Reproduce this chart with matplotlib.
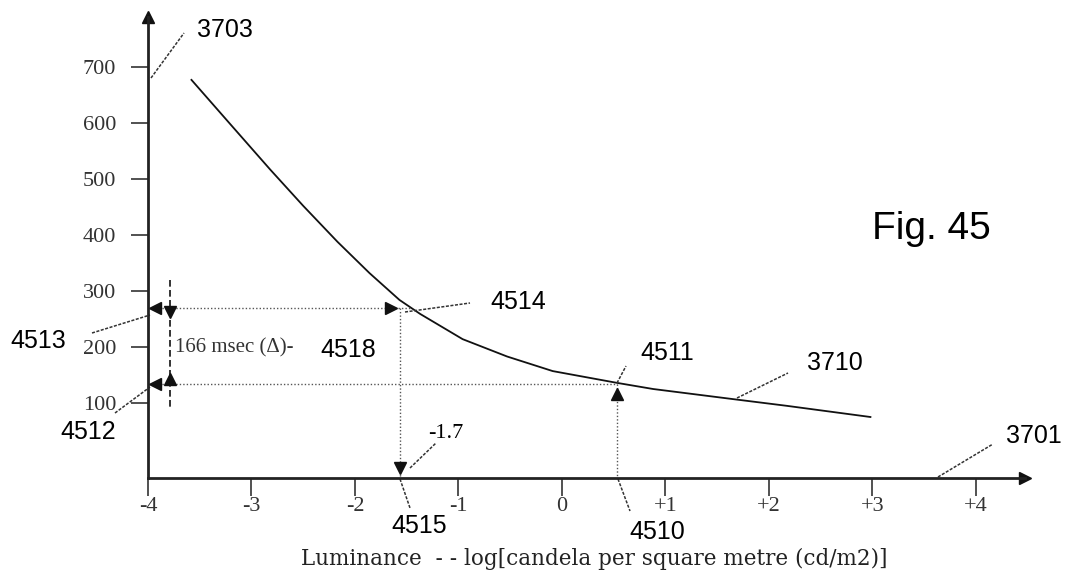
import matplotlib
matplotlib.use("Agg")
import matplotlib.pyplot as plt
from matplotlib.transforms import IdentityTransform

# ---------------- data ----------------
curve_x = [-3.58, -3.21, -2.82, -2.50, -2.17, -1.86, -1.57, -1.37, -0.96, -0.53, -0.09, 0.53, 0.88, 1.65, 2.17, 2.98]
curve_y = [677, 599, 517, 452, 388, 332, 284, 259, 214, 183, 157, 136, 125, 107, 95, 75]

x_ticks = [-4, -3, -2, -1, 0, 1, 2, 3, 4]
x_tick_labels = ["-4", "-3", "-2", "-1", "0", "+1", "+2", "+3", "+4"]
y_ticks = [100, 200, 300, 400, 500, 600, 700]
y_tick_labels = ["100", "200", "300", "400", "500", "600", "700"]

x_ref = 0.53        # reference luminance (4510)
t_ref = 134         # response at reference (4511 / 4512)
x_low = -1.57       # lower luminance (4515)
t_low = 270         # response at lower luminance (4514 / 4513)
x_dim = -3.79       # position of dimension line (4518)

x_axis_level = -34  # height at which the x axis is drawn
y_axis_top = 790
x_axis_end = 4.47

W, H = 1065, 577
fig = plt.figure(figsize=(W / 100, H / 100), dpi=100)
ax = fig.add_axes([0, 0, 1, 1])
ax.set_xlim((0 - 562) / 103.5, (W - 562) / 103.5)
ax.set_ylim((459 - H) / 0.56, 459 / 0.56)
ax.patch.set_alpha(0)

serif = "Liberation Serif"
sans = "Liberation Sans"
ink = "#111111"
dot = "#555555"

# ---------------- axes ----------------
for s in ["top", "right"]:
    ax.spines[s].set_visible(False)
ax.spines["left"].set_position(("data", -4))
ax.spines["bottom"].set_position(("data", x_axis_level))
ax.spines["left"].set_bounds(x_axis_level, y_axis_top)
ax.spines["bottom"].set_bounds(-4, x_axis_end)
for s in ["left", "bottom"]:
    ax.spines[s].set_linewidth(2.0)
    ax.spines[s].set_color("#222222")

ax.set_xticks(x_ticks)
ax.set_xticklabels(x_tick_labels, fontfamily=serif, fontsize=16, color="#333333")
ax.set_yticks(y_ticks)
ax.set_yticklabels(y_tick_labels, fontfamily=serif, fontsize=16, color="#333333")
ax.tick_params(axis="x", direction="out", length=13, width=1.2, pad=1, colors="#333333")
ax.tick_params(axis="y", direction="out", length=12, width=1.2, pad=11, colors="#333333")

# axis arrowheads
ax.plot([-4], [y_axis_top], marker="^", ms=8, color=ink, clip_on=False)
ax.plot([x_axis_end], [x_axis_level], marker=">", ms=9, color=ink, clip_on=False)

fig.text(594 / W, 1 - 559 / H,
         "Luminance  - - log[candela per square metre (cd/m2)]",
         fontfamily="DejaVu Serif", fontsize=15.5, color="#222222", ha="center", va="center")

# ---------------- curve 3710 ----------------
ax.plot(curve_x, curve_y, color=ink, lw=1.3)

# ---------------- construction lines ----------------
dotted = dict(color=dot, lw=1.0, linestyle=(0, (1, 1.5)))
ax.plot([-4, x_low + 0.1], [t_low, t_low], **dotted)
ax.plot([-4, x_ref], [t_ref, t_ref], **dotted)
ax.plot([x_low, x_low], [t_low, x_axis_level], **dotted)
ax.plot([x_ref, x_ref], [t_ref, x_axis_level], **dotted)

# arrowheads on the construction lines
ax.plot([-3.93], [t_low], marker="<", ms=8, color=ink)
ax.plot([x_low - 0.08], [t_low], marker=">", ms=8, color=ink)
ax.plot([x_low], [x_axis_level + 18], marker="v", ms=8, color=ink)
ax.plot([-3.93], [t_ref], marker="<", ms=8, color=ink)
ax.plot([x_ref], [t_ref - 18], marker="^", ms=8, color=ink)

# dimension line 4518
ax.plot([x_dim, x_dim], [t_low + 50, t_ref - 45], color=ink, lw=1.2, linestyle=(0, (4, 2)))
ax.plot([x_dim], [t_low - 8], marker="v", ms=8, color=ink)
ax.plot([x_dim], [t_ref + 8], marker="^", ms=8, color=ink)

# ---------------- reference numerals ----------------
def P(x, y):
    return (x, H - y)

def leader(p0, p1, ls=(0, (2, 1))):
    a, b = P(*p0), P(*p1)
    ax.add_line(plt.Line2D([a[0], b[0]], [a[1], b[1]], transform=IdentityTransform(),
                           color="#333333", lw=1.1, linestyle=ls))

def label(x, y, s, size=18, fam=sans, ha="left", color="black"):
    fig.text(x / W, 1 - y / H, s, fontfamily=fam, fontsize=size, color=color,
             ha=ha, va="center")

label(175, 348, "166 msec (Δ)-", size=15, fam=serif, color="#333333")
leader((151, 78), (184, 33))
label(197, 30, "3703")
leader((92, 333), (150, 315))
label(10, 341, "4513")
leader((115, 413), (150, 387))
label(60, 432, "4512")
leader((405, 312), (470, 303))
label(490, 302, "4514")
leader((617, 383), (626, 366))
label(640, 353, "4511")
leader((737, 398), (788, 373))
label(807, 363, "3710")
leader((938, 477), (993, 444))
label(1006, 436, "3701")
leader((410, 468), (436, 443))
label(428, 433, "-1.7", size=16, fam=serif)
leader((400, 479), (410, 508))
label(419, 526, "4515", ha="center")
leader((618, 479), (630, 511))
label(657, 532, "4510", ha="center")
label(320, 350, "4518")
label(872, 229, "Fig. 45", size=28)

fig.savefig("out.png", dpi=100)
